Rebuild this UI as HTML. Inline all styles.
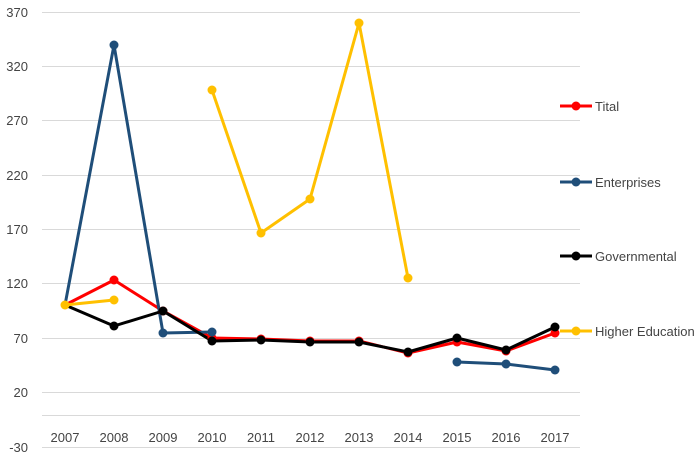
<!DOCTYPE html><html><head><style>body{margin:0;background:#fff}svg text{font-family:"Liberation Sans",sans-serif;font-size:13px;fill:#444}</style></head><body>
<svg width="700" height="460" xmlns="http://www.w3.org/2000/svg">
<g stroke="#d9d9d9" stroke-width="1">
<line x1="42" x2="580" y1="12.5" y2="12.5"/><line x1="42" x2="580" y1="66.5" y2="66.5"/><line x1="42" x2="580" y1="120.5" y2="120.5"/><line x1="42" x2="580" y1="175.5" y2="175.5"/><line x1="42" x2="580" y1="229.5" y2="229.5"/><line x1="42" x2="580" y1="283.5" y2="283.5"/><line x1="42" x2="580" y1="338.5" y2="338.5"/><line x1="42" x2="580" y1="392.5" y2="392.5"/><line x1="42" x2="580" y1="415.5" y2="415.5"/><line x1="42" x2="580" y1="447.5" y2="447.5"/></g>
<g text-anchor="end"><text x="28" y="17">370</text><text x="28" y="71">320</text><text x="28" y="125">270</text><text x="28" y="180">220</text><text x="28" y="234">170</text><text x="28" y="288">120</text><text x="28" y="343">70</text><text x="28" y="397">20</text><text x="28" y="452">-30</text></g>
<g text-anchor="middle"><text x="65" y="442">2007</text><text x="114" y="442">2008</text><text x="163" y="442">2009</text><text x="212" y="442">2010</text><text x="261" y="442">2011</text><text x="310" y="442">2012</text><text x="359" y="442">2013</text><text x="408" y="442">2014</text><text x="457" y="442">2015</text><text x="506" y="442">2016</text><text x="555" y="442">2017</text></g>
<g fill="none" stroke-width="3" stroke-linejoin="round">
<polyline stroke="#ff0000" points="65,305 114,280 163,311 212,338 261,339 310,341 359,341 408,353 457,342 506,351 555,333"/>
<polyline stroke="#1f4e79" points="65,305 114,45 163,333 212,332"/>
<polyline stroke="#1f4e79" points="457,362 506,364 555,370"/>
<polyline stroke="#000" points="65,305 114,326 163,311 212,341 261,340 310,342 359,342 408,352 457,338 506,350 555,327"/>
<polyline stroke="#ffc000" points="65,305 114,300"/>
<polyline stroke="#ffc000" points="212,90 261,233 310,199 359,23 408,278"/>
</g>
<g fill="#ff0000"><circle cx="114" cy="280" r="4.5"/><circle cx="163" cy="311" r="4.5"/><circle cx="212" cy="338" r="4.5"/><circle cx="261" cy="339" r="4.5"/><circle cx="310" cy="341" r="4.5"/><circle cx="359" cy="341" r="4.5"/><circle cx="408" cy="353" r="4.5"/><circle cx="457" cy="342" r="4.5"/><circle cx="506" cy="351" r="4.5"/><circle cx="555" cy="333" r="4.5"/></g>
<g fill="#1f4e79"><circle cx="114" cy="45" r="4.5"/><circle cx="163" cy="333" r="4.5"/><circle cx="212" cy="332" r="4.5"/><circle cx="457" cy="362" r="4.5"/><circle cx="506" cy="364" r="4.5"/><circle cx="555" cy="370" r="4.5"/></g>
<g fill="#000"><circle cx="114" cy="326" r="4.5"/><circle cx="163" cy="311" r="4.5"/><circle cx="212" cy="341" r="4.5"/><circle cx="261" cy="340" r="4.5"/><circle cx="310" cy="342" r="4.5"/><circle cx="359" cy="342" r="4.5"/><circle cx="408" cy="352" r="4.5"/><circle cx="457" cy="338" r="4.5"/><circle cx="506" cy="350" r="4.5"/><circle cx="555" cy="327" r="4.5"/></g>
<g fill="#ffc000"><circle cx="65" cy="305" r="4.5"/><circle cx="114" cy="300" r="4.5"/><circle cx="212" cy="90" r="4.5"/><circle cx="261" cy="233" r="4.5"/><circle cx="310" cy="199" r="4.5"/><circle cx="359" cy="23" r="4.5"/><circle cx="408" cy="278" r="4.5"/></g>
<g stroke-width="3"><line x1="560" x2="592" y1="106" y2="106" stroke="#ff0000"/><line x1="560" x2="592" y1="182" y2="182" stroke="#1f4e79"/><line x1="560" x2="592" y1="256" y2="256" stroke="#000"/><line x1="560" x2="592" y1="331" y2="331" stroke="#ffc000"/></g>
<circle cx="576" cy="106" r="4.5" fill="#ff0000"/><circle cx="576" cy="182" r="4.5" fill="#1f4e79"/><circle cx="576" cy="256" r="4.5" fill="#000"/><circle cx="576" cy="331" r="4.5" fill="#ffc000"/>
<text x="595" y="111">Tital</text><text x="595" y="187">Enterprises</text><text x="595" y="261">Governmental</text><text x="595" y="336">Higher Education</text>
</svg></body></html>
